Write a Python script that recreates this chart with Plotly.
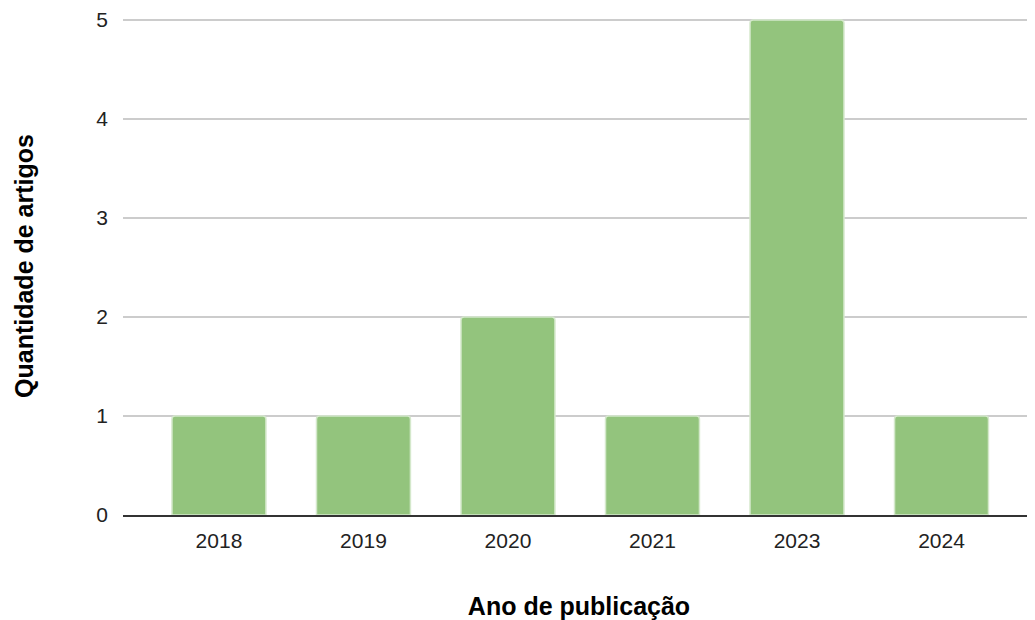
import plotly.graph_objects as go

anos = ["2018", "2019", "2020", "2021", "2023", "2024"]
quantidade = [1, 1, 2, 1, 5, 1]
y_ticks = [0, 1, 2, 3, 4, 5]

fig = go.Figure(go.Bar(
    x=anos, y=quantidade, width=0.65,
    marker=dict(color="#93c47d", line=dict(color="#d4e8cb", width=1.5)),
))
fig.update_layout(
    width=1027, height=612,
    margin=dict(l=115, r=0, t=9, b=105),
    paper_bgcolor="white", plot_bgcolor="white",
    barcornerradius=3,
    font=dict(family="Liberation Sans, Arial", color="#222222"),
    showlegend=False,
)
fig.update_xaxes(
    type="category", range=[-0.664, 5.647],
    tickfont=dict(size=21), ticks="", showgrid=False, ticklabelstandoff=6,
    showline=True, linecolor="#333333", linewidth=1.5,
    title=dict(text="<b>Ano de publicação</b>", font=dict(size=25, color="#000000"), standoff=50),
)
fig.update_yaxes(
    range=[0, 5.03], tickvals=y_ticks, tickfont=dict(size=21),
    showgrid=True, gridcolor="#cccccc", gridwidth=1.5, zeroline=False,
    ticklabelstandoff=14, ticklabeloverflow="allow",
    title=dict(text="<b>Quantidade de artigos</b>", font=dict(size=25, color="#000000"), standoff=55),
)
fig.write_html("out.html")
